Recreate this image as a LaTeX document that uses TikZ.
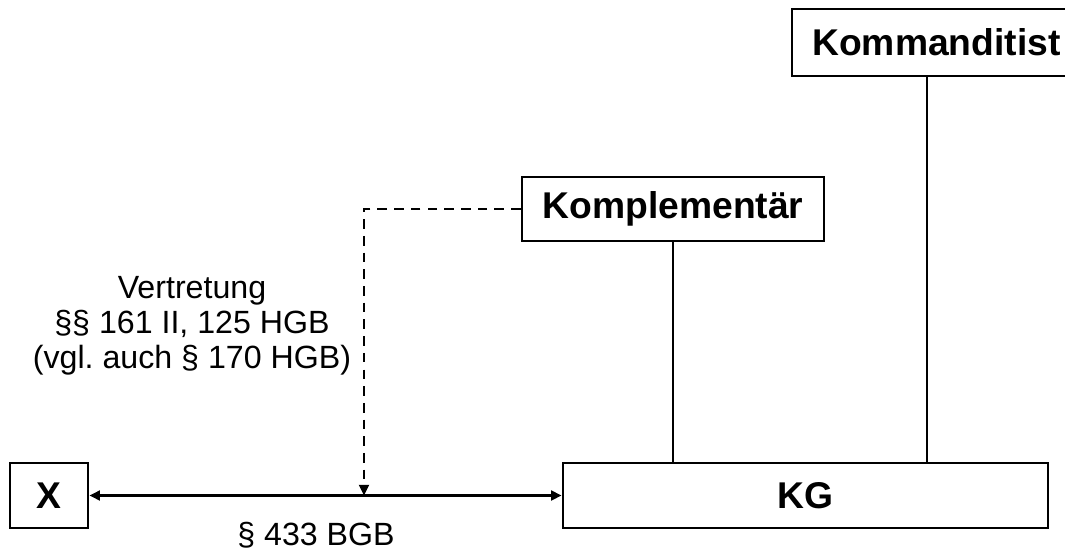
\documentclass[tikz,border=0pt]{standalone}
\usepackage{fontspec}
\setmainfont{Liberation Sans}
\usetikzlibrary{arrows.meta,positioning,calc}

\begin{document}
\begin{tikzpicture}[
    x=0.02cm, y=-0.02cm,
    every node/.style={font=\fontsize{18.3}{19.9}\selectfont},
    party/.style={draw, line width=1.6pt, minimum height=1.3cm, inner sep=0pt,
                  font=\fontsize{21.2}{24}\selectfont\bfseries},
    link/.style={line width=1.5pt},
    rel/.style={line width=1.5pt, {Triangle[length=6pt,width=5.5pt]}-{Triangle[length=6pt,width=5.5pt]}},
  ]
  \useasboundingbox (0,0) rectangle (1065,554);

  % Parties
  \node[party, minimum width=1.56cm] (x) at (49,495.5) {X};
  \node[party, minimum width=9.7cm] (kg) at (805.5,495.5) {KG};
  \node[party, minimum width=6.04cm, minimum height=1.28cm] (kompl) at (673,209) {Komplementär};
  \node[party, minimum width=5.78cm, minimum height=1.34cm] (kommand) at (936.5,42.5) {Kommanditist};

  % Membership lines
  \coordinate (kdline) at (927,0);
  \draw[link] (kompl.south) -- (kompl.south |- kg.north);
  \draw[link] (kdline |- kommand.south) -- (kdline |- kg.north);

  % Contract
  \draw[rel] (x.east) -- (kg.west);
  \node[anchor=base] (bgb) at (316,545) {§ 433 BGB};

  % Representation
  \coordinate (hit) at (364,495.5);
  \draw[link, dash pattern=on 5.5pt off 4pt, -{Triangle[length=6pt,width=5.5pt]}]
    (kompl.west) -| (hit);
  \node[align=center] (vertr) at (192,326)
    {Vertretung\\§§ 161 II, 125 HGB\\(vgl.\ auch § 170 HGB)};
\end{tikzpicture}
\end{document}
